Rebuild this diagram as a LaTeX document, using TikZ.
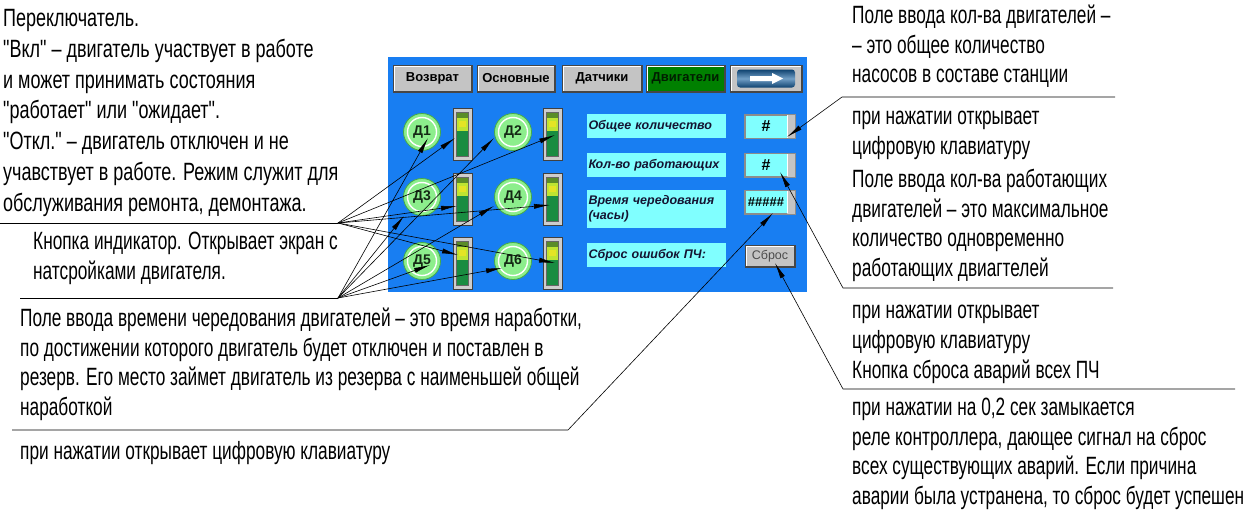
\documentclass[tikz,border=0pt]{standalone}
\usepackage{fontspec}
\setmainfont{Liberation Sans}[FakeStretch=0.69]
\newfontfamily\widenote{Liberation Sans}[FakeStretch=0.72]
\newfontfamily\uifont{Liberation Sans}
\usetikzlibrary{arrows.meta,calc}

\definecolor{panelblue}{RGB}{24,126,242}
\definecolor{cyanfill}{RGB}{128,255,255}
\definecolor{btngray}{RGB}{196,196,196}
\definecolor{bevdark}{RGB}{70,70,70}
\definecolor{tabgreen}{RGB}{0,128,0}
\definecolor{tabgreentext}{RGB}{0,30,0}
\definecolor{lampgreen}{RGB}{140,238,140}
\definecolor{lampedge}{RGB}{70,170,70}
\definecolor{lamptext}{RGB}{20,40,20}
\definecolor{framegray}{RGB}{205,205,205}
\definecolor{swolive}{RGB}{90,140,40}
\definecolor{swlime}{RGB}{190,228,50}
\definecolor{swgreen}{RGB}{25,140,65}
\definecolor{labeltext}{RGB}{20,20,50}
\definecolor{arrowblue}{RGB}{20,95,160}

\begin{document}
\begin{tikzpicture}[x=1pt,y=-1pt,
  note/.style={anchor=north west, inner sep=0pt, align=left,
    font=\fontsize{25}{29.5}\selectfont},
  leader/.style={line width=0.6pt, black},
  pointer/.style={leader, -{Latex[length=16pt,width=5pt]}},
  bevel/.style={path picture={
    \draw[white,line width=3pt] (path picture bounding box.south west) |- (path picture bounding box.north east);
    \draw[bevdark,line width=3pt] (path picture bounding box.south west) -| (path picture bounding box.north east);}},
  tab/.style={bevel, fill=btngray, draw=bevdark, line width=0.4pt,
    minimum height=27pt, inner sep=0pt,
    font=\uifont\bfseries\fontsize{13}{13}\selectfont},
  lamp/.style={circle, minimum size=37pt, inner sep=0pt, fill=lampgreen,
    draw=lampedge, line width=0.8pt, text=lamptext,
    font=\uifont\bfseries\fontsize{14}{14}\selectfont,
    path picture={\draw[white,line width=1.4pt] (path picture bounding box.center) circle[radius=14.5pt];}},
  toggle/.style={rectangle, minimum width=19pt, minimum height=52pt, inner sep=0pt,
    fill=framegray, draw=black!75, line width=0.8pt},
  lbl/.style={fill=cyanfill, minimum width=139pt, text width=136pt, align=left,
    inner xsep=1.5pt, inner ysep=0pt, text=labeltext,
    font=\uifont\bfseries\itshape\fontsize{12.5}{14.5}\selectfont},
  field/.style={fill=cyanfill, draw=black!45, line width=0.6pt, minimum width=50pt,
    minimum height=23pt, inner sep=0pt,
    font=\uifont\bfseries\fontsize{16}{16}\selectfont}
]
\useasboundingbox (0,0) rectangle (1251,509);
\fill[white] (0,0) rectangle (1251,509);

% ---------- operator screen ----------
\node[fill=panelblue, anchor=north west, minimum width=419pt, minimum height=235pt, inner sep=0pt] (scr) at (388,57) {};

\node[tab, minimum width=79pt] (bBack) at (432.5,78.5) {Возврат};
\node[tab, minimum width=78pt] (bMain) at (516,78.5) {Основные};
\node[tab, minimum width=80pt] (bSens) at (602,78.5) {Датчики};
\node[tab, minimum width=79pt, fill=tabgreen, text=tabgreentext] (bMot) at (685.5,78.5) {Двигатели};
\node[tab, minimum width=72pt] (bNext) at (766,78.5) {};
\begin{scope}[shift={(bNext.center)}]
  \shade[rounded corners=3pt, top color=arrowblue!70!black, bottom color=arrowblue!70!black,
         middle color=arrowblue!60!white] (-29,-9) rectangle (29,9);
  \fill[white] (-16,-2.5) -- (6,-2.5) -- (6,-5.5) -- (17,0) -- (6,5.5) -- (6,2.5) -- (-16,2.5) -- cycle;
\end{scope}

% motor lamps
\node[lamp] (d1) at (422,132) {Д1};
\node[lamp] (d2) at (513,132) {Д2};
\node[lamp] (d3) at (422,197) {Д3};
\node[lamp] (d4) at (513,197) {Д4};
\node[lamp] (d5) at (422,261) {Д5};
\node[lamp] (d6) at (513,261) {Д6};

% on/off switches
\node[toggle] (s1) at (462.5,134) {};
\node[toggle] (s2) at (552.5,134) {};
\node[toggle] (s3) at (462.5,199) {};
\node[toggle] (s4) at (552.5,199) {};
\node[toggle] (s5) at (462.5,263) {};
\node[toggle] (s6) at (552.5,263) {};
\foreach \s in {s1,s2,s3,s4,s5,s6}{
  \begin{scope}[shift={(\s.center)}]
    \fill[black!60] (-6.5,-22.5) rectangle (6.5,22.5);
    \fill[swolive] (-5.5,-21.5) rectangle (5.5,-16);
    \fill[swlime] (-5.5,-16) rectangle (5.5,-3);
    \fill[yellow!55!swlime] (-3.5,-13) rectangle (3.5,-7);
    \fill[swgreen] (-5.5,-3) rectangle (5.5,21.5);
  \end{scope}
}

% parameter captions
\node[lbl, minimum height=24pt] (l1) at (656.5,126) {Общее количество};
\node[lbl, minimum height=24pt] (l2) at (656.5,165) {Кол-во работающих};
\node[lbl, minimum height=38pt] (l3) at (656.5,209) {Время чередования\\(часы)};
\node[lbl, minimum height=24pt] (l4) at (656.5,255) {Сброс ошибок ПЧ:};

% numeric fields
\node[field] (f1) at (770,126.5) {\#\hspace*{8pt}};
\node[field] (f2) at (770,165) {\#\hspace*{8pt}};
\node[field, font=\uifont\bfseries\fontsize{13}{13}\selectfont] (f3) at (770,202) {\#\#\#\#\#\hspace*{8pt}};
\foreach \f in {f1,f2,f3}{
  \fill[btngray] ($(\f.north east)+(-8,0)$) rectangle (\f.south east);
  \draw[white, line width=1pt] ($(\f.north east)+(-7.5,0.5)$) -- ($(\f.south east)+(-7.5,-0.5)$);
  \draw[black!45, line width=0.6pt] (\f.north west) rectangle (\f.south east);
}
\node[tab, minimum width=50pt, minimum height=22pt, text=black!70,
      font=\uifont\fontsize{12.5}{12.5}\selectfont] (rst) at (770,256) {Сброс};

% ---------- notes ----------
\node[note, font=\widenote\fontsize{25}{30.8}\selectfont] (nA) at (3,9) {Переключатель.\\
"Вкл" – двигатель участвует в работе\\
и может принимать состояния\\
"работает" или "ожидает".\\
"Откл." – двигатель отключен и не\\
учавствует в работе. Режим служит для\\
обслуживания ремонта, демонтажа.};

\node[note] (nB) at (33,232) {Кнопка индикатор. Открывает экран с\\
натсройками двигателя.};

\node[note] (nC) at (20,308) {Поле ввода времени чередования двигателей – это время наработки,\\
по достижении которого двигатель будет отключен и поставлен в\\
резерв. Его место займет двигатель из резерва с наименьшей общей\\
наработкой};

\node[note] (nD) at (20,441) {при нажатии открывает цифровую клавиатуру};

\node[note] (nR1) at (852,5) {Поле ввода кол-ва двигателей –\\
– это общее количество\\
насосов в составе станции};

\node[note] (nR2) at (852,111) {при нажатии открывает\\
цифровую клавиатуру};

\node[note] (nR3) at (852,169) {Поле ввода кол-ва работающих\\
двигателей – это максимальное\\
количество одновременно\\
работающих двиагтелей};

\node[note] (nR4) at (852,305) {при нажатии открывает\\
цифровую клавиатуру};

\node[note] (nR5) at (852,360) {Кнопка сброса аварий всех ПЧ};

\node[note] (nR6) at (852,398) {при нажатии на 0,2 сек замыкается\\
реле контроллера, дающее сигнал на сброс\\
всех существующих аварий. Если причина\\
аварии была устранена, то сброс будет успешен};

% ---------- leader lines ----------
\coordinate (F1) at (338,223);
\coordinate (F2) at (338,298);
\coordinate (a0) at (0,223);
\coordinate (b0) at (20,298);
\coordinate (c0) at (12,430);
\coordinate (c1) at (568,430);
\coordinate (r1a) at (1115,97);
\coordinate (r1b) at (842,97);
\coordinate (r2a) at (1113,288);
\coordinate (r2b) at (843,288);
\coordinate (r3a) at (1235,389);
\coordinate (r3b) at (843,389);

\draw[leader] (a0) -- (F1);
\draw[leader] (b0) -- (F2);

% switch pointers
\draw[pointer] (F1) -- ($(s1)+(-7.5,4)$);
\draw[pointer] (F1) -- ($(s2)+(2.5,1)$);
\draw[pointer] (F1) -- ($(s3)+(-5.5,7)$);
\draw[pointer] (F1) -- ($(s4)+(-2.5,6)$);
\draw[pointer] (F1) -- ($(s5)+(-4.5,-8)$);
\draw[pointer] (F1) -- ($(s6)+(2.5,0)$);

% lamp pointers
\draw[pointer] (F2) -- ($(d1)+(6,6)$);
\draw[pointer] (F2) -- ($(d2)+(-19,6)$);
\draw[pointer] (F2) -- ($(d3)+(-18,19)$);
\draw[pointer] (F2) -- ($(d4)+(-19,9)$);
\draw[pointer] (F2) -- ($(d5)+(8,4)$);
\draw[pointer] (F2) -- ($(d6)+(-11,7)$);

% field pointers
\draw[pointer] (c0) -- (c1) -- ($(f3)+(3,11)$);
\draw[pointer] (r1a) -- (r1b) -- ($(f1)+(17,10.5)$);
\draw[pointer] (r2a) -- (r2b) -- ($(f2)+(10,7)$);
\draw[pointer] (r3a) -- (r3b) -- ($(rst)+(5,7)$);
\end{tikzpicture}
\end{document}
